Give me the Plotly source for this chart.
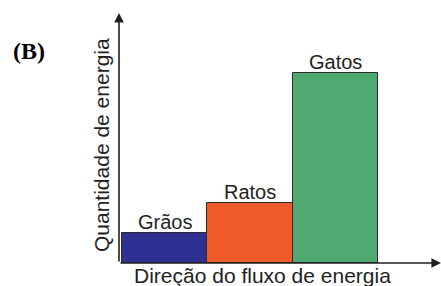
import plotly.graph_objects as go

categories = ["Grãos", "Ratos", "Gatos"]
values = [1.0, 2.0, 6.33]
colors = ["#2E3192", "#F15A29", "#4FA971"]
x_title = "Direção do fluxo de energia"
y_title = "Quantidade de energia"
panel_label = "(B)"

W, H = 441, 286
L, R, T, B = 119, 0, 13, 23
x_range = [-0.535, 3.239]
y_range = [0, 8.333]

fig = go.Figure()
fig.add_trace(go.Bar(
    x=list(range(len(categories))), y=values, width=1,
    marker=dict(color=colors, line=dict(color="#2b2b2b", width=1)),
    hoverinfo="skip",
))

axis_color = "#231F20"
font = "Liberation Sans, Arial, sans-serif"
ann = []
# axis arrows
ann.append(dict(x=x_range[1], y=0, ax=x_range[0], ay=0, xref="x", yref="y",
                axref="x", ayref="y", text="", showarrow=True, arrowhead=2,
                arrowsize=1.2, arrowwidth=1.6, arrowcolor=axis_color))
ann.append(dict(x=x_range[0], y=y_range[1], ax=x_range[0], ay=0, xref="x", yref="y",
                axref="x", ayref="y", text="", showarrow=True, arrowhead=2,
                arrowsize=1.2, arrowwidth=1.6, arrowcolor=axis_color))
# bar labels
for i, (c, v) in enumerate(zip(categories, values)):
    ann.append(dict(x=i, y=v, xref="x", yref="y", text=c, showarrow=False,
                    yanchor="bottom", xanchor="center", yshift=-2,
                    font=dict(family=font, size=20, color="#231F20")))
# axis titles
ann.append(dict(x=(262 - L) / (W - L - R), y=0, xref="paper", yref="paper",
                text=x_title, showarrow=False, xanchor="center", yanchor="top",
                yshift=1, font=dict(family=font, size=21, color="#231F20")))
ann.append(dict(x=(101 - L) / (W - L - R), y=(H - B - 145) / (H - T - B), xref="paper",
                yref="paper", text=y_title, showarrow=False, textangle=-90,
                xanchor="center", yanchor="middle",
                font=dict(family=font, size=21, color="#231F20")))
ann.append(dict(x=(28.5 - L) / (W - L - R), y=(H - B - 51) / (H - T - B), xref="paper",
                yref="paper", text="<b>" + panel_label + "</b>", showarrow=False,
                xanchor="center", yanchor="middle",
                font=dict(family="Liberation Serif, Times New Roman, serif", size=24,
                          color="#000000")))

fig.update_layout(
    width=W, height=H, margin=dict(l=L, r=R, t=T, b=B),
    paper_bgcolor="white", plot_bgcolor="white", showlegend=False,
    bargap=0,
    xaxis=dict(range=x_range, showgrid=False, zeroline=False, showticklabels=False,
               ticks="", showline=False, fixedrange=True),
    yaxis=dict(range=y_range, showgrid=False, zeroline=False, showticklabels=False,
               ticks="", showline=False, fixedrange=True),
    annotations=ann,
)
fig.write_html(
    "out.html",
    config={"displayModeBar": False},
    post_script="document.body.style.margin='0';document.body.style.overflow='hidden';",
)
